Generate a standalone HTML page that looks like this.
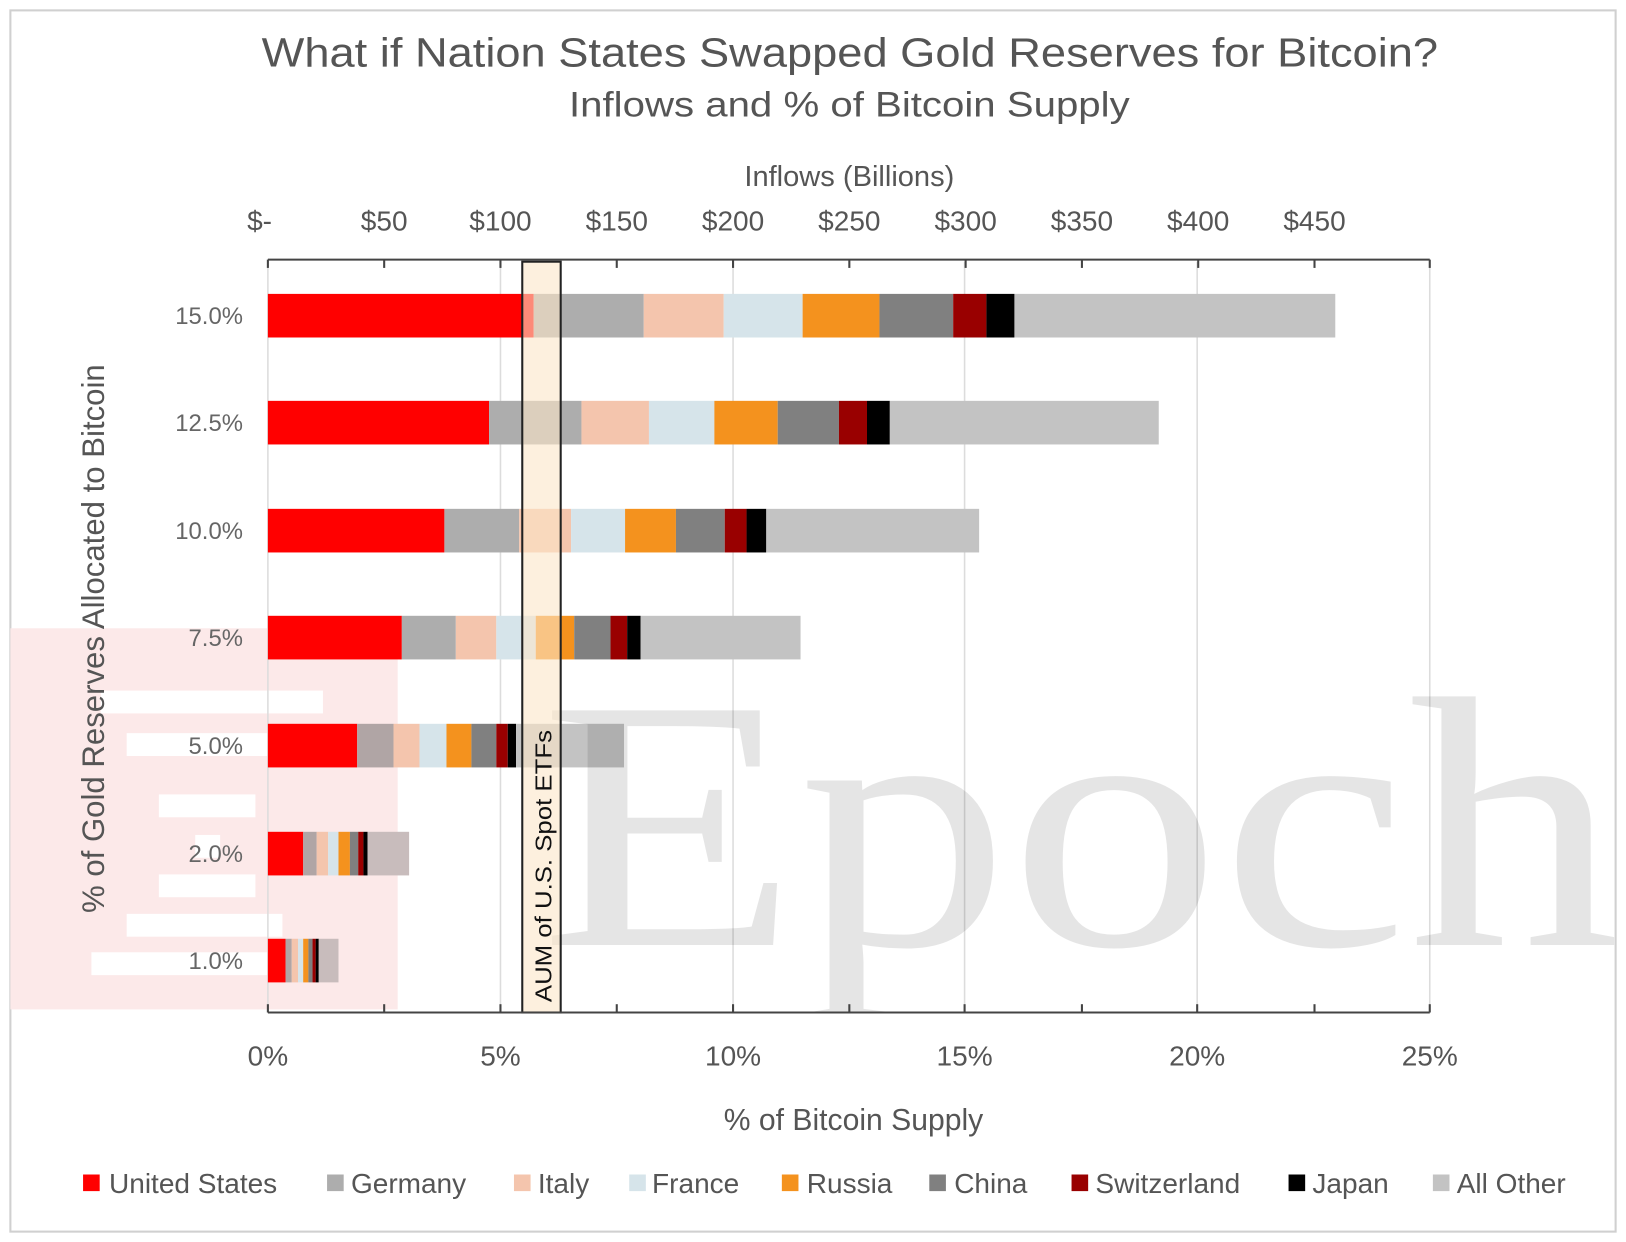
<!DOCTYPE html>
<html><head><meta charset="utf-8"><style>
html,body{margin:0;padding:0;background:#fff;}
svg{display:block;}
</style></head><body>
<svg width="1626" height="1242" viewBox="0 0 1566 1196" preserveAspectRatio="none" xmlns="http://www.w3.org/2000/svg" style="font-family:'Liberation Sans',sans-serif">
<defs><clipPath id="pc"><rect x="0" y="0" width="1566" height="975"/></clipPath></defs>
<rect x="0" y="0" width="1566" height="1196" fill="#fff"/>
<rect x="10" y="10" width="1546" height="1176" fill="none" stroke="#d0d0d0" stroke-width="2"/>
<!-- pink watermark (behind) -->
<rect x="10" y="605" width="373" height="367" fill="#fce9e9"/>
<g fill="#fff">
<rect x="97" y="665" width="214" height="22"/>
<rect x="122" y="706" width="150" height="22"/>
<rect x="153" y="765" width="93" height="22"/>
<rect x="188" y="804" width="24" height="22"/>
<rect x="153" y="842" width="93" height="22"/>
<rect x="122" y="880" width="150" height="22"/>
<rect x="88" y="917" width="224" height="22"/>
</g>
<!-- gridlines -->
<g stroke="#dcdcdc" stroke-width="1.5">
<line x1="258" y1="252" x2="258" y2="975"/>
<line x1="482" y1="252" x2="482" y2="975"/>
<line x1="706" y1="252" x2="706" y2="975"/>
<line x1="929" y1="252" x2="929" y2="975"/>
<line x1="1153" y1="252" x2="1153" y2="975"/>
<line x1="1377" y1="252" x2="1377" y2="975"/>
</g>
<!-- bars -->
<g>
<rect x="258" y="283" width="256" height="42" fill="#ff0000"/>
<rect x="514" y="283" width="106" height="42" fill="#adadad"/>
<rect x="620" y="283" width="77" height="42" fill="#f4c5ad"/>
<rect x="697" y="283" width="76" height="42" fill="#d6e4ea"/>
<rect x="773" y="283" width="74" height="42" fill="#f4921e"/>
<rect x="847" y="283" width="71" height="42" fill="#808080"/>
<rect x="918" y="283" width="32" height="42" fill="#990000"/>
<rect x="950" y="283" width="27" height="42" fill="#000"/>
<rect x="977" y="283" width="309" height="42" fill="#c3c3c3"/>
<rect x="258" y="386" width="213" height="42" fill="#ff0000"/>
<rect x="471" y="386" width="89" height="42" fill="#adadad"/>
<rect x="560" y="386" width="65" height="42" fill="#f4c5ad"/>
<rect x="625" y="386" width="63" height="42" fill="#d6e4ea"/>
<rect x="688" y="386" width="61" height="42" fill="#f4921e"/>
<rect x="749" y="386" width="59" height="42" fill="#808080"/>
<rect x="808" y="386" width="27" height="42" fill="#990000"/>
<rect x="835" y="386" width="22" height="42" fill="#000"/>
<rect x="857" y="386" width="259" height="42" fill="#c3c3c3"/>
<rect x="258" y="490" width="170" height="42" fill="#ff0000"/>
<rect x="428" y="490" width="72" height="42" fill="#adadad"/>
<rect x="500" y="490" width="50" height="42" fill="#f4c5ad"/>
<rect x="550" y="490" width="52" height="42" fill="#d6e4ea"/>
<rect x="602" y="490" width="49" height="42" fill="#f4921e"/>
<rect x="651" y="490" width="47" height="42" fill="#808080"/>
<rect x="698" y="490" width="21" height="42" fill="#990000"/>
<rect x="719" y="490" width="19" height="42" fill="#000"/>
<rect x="738" y="490" width="205" height="42" fill="#c3c3c3"/>
<rect x="258" y="593" width="129" height="42" fill="#ff0000"/>
<rect x="387" y="593" width="52" height="42" fill="#adadad"/>
<rect x="439" y="593" width="39" height="42" fill="#f4c5ad"/>
<rect x="478" y="593" width="38" height="42" fill="#d6e4ea"/>
<rect x="516" y="593" width="37" height="42" fill="#f4921e"/>
<rect x="553" y="593" width="35" height="42" fill="#808080"/>
<rect x="588" y="593" width="16" height="42" fill="#990000"/>
<rect x="604" y="593" width="13" height="42" fill="#000"/>
<rect x="617" y="593" width="154" height="42" fill="#c3c3c3"/>
<rect x="258" y="697" width="86" height="42" fill="#ff0000"/>
<rect x="344" y="697" width="35" height="42" fill="#b0a5a5"/>
<rect x="379" y="697" width="25" height="42" fill="#f4c5ad"/>
<rect x="404" y="697" width="26" height="42" fill="#d6e4ea"/>
<rect x="430" y="697" width="24" height="42" fill="#f4921e"/>
<rect x="454" y="697" width="24" height="42" fill="#808080"/>
<rect x="478" y="697" width="11" height="42" fill="#990000"/>
<rect x="489" y="697" width="8" height="42" fill="#000"/>
<rect x="497" y="697" width="104" height="42" fill="#c3c3c3"/>
<rect x="258" y="801" width="34" height="42" fill="#ff0000"/>
<rect x="292" y="801" width="13" height="42" fill="#b0a5a5"/>
<rect x="305" y="801" width="11" height="42" fill="#f4c5ad"/>
<rect x="316" y="801" width="10" height="42" fill="#d6e4ea"/>
<rect x="326" y="801" width="11" height="42" fill="#f4921e"/>
<rect x="337" y="801" width="8" height="42" fill="#808080"/>
<rect x="345" y="801" width="5" height="42" fill="#990000"/>
<rect x="350" y="801" width="4" height="42" fill="#000"/>
<rect x="354" y="801" width="40" height="42" fill="#c8bcbc"/>
<rect x="258" y="904" width="17" height="42" fill="#ff0000"/>
<rect x="275" y="904" width="6" height="42" fill="#b0a5a5"/>
<rect x="281" y="904" width="6" height="42" fill="#f4c5ad"/>
<rect x="287" y="904" width="5" height="42" fill="#d6e4ea"/>
<rect x="292" y="904" width="5" height="42" fill="#f4921e"/>
<rect x="297" y="904" width="4" height="42" fill="#808080"/>
<rect x="301" y="904" width="3" height="42" fill="#990000"/>
<rect x="304" y="904" width="3" height="42" fill="#000"/>
<rect x="307" y="904" width="19" height="42" fill="#c8bcbc"/>
</g>
<!-- watermark Epoch -->
<g clip-path="url(#pc)">
<text x="520" y="910" style="font-family:'Liberation Serif',serif" font-size="345" fill="#000" fill-opacity="0.1" textLength="1040" lengthAdjust="spacingAndGlyphs">Epoch</text>
</g>
<!-- ETF band -->
<rect x="503" y="252" width="37" height="723" fill="#fbe6c8" fill-opacity="0.6" stroke="#222" stroke-width="2"/>
<text transform="translate(531,965) rotate(-90)" font-size="22" fill="#111" textLength="262" lengthAdjust="spacingAndGlyphs">AUM of U.S. Spot ETFs</text>
<!-- axes -->
<line x1="258" y1="250" x2="1377" y2="250" stroke="#444" stroke-width="2"/>
<line x1="258" y1="975" x2="1377" y2="975" stroke="#444" stroke-width="2"/>
<g stroke="#444" stroke-width="2">
<line x1="258" y1="250" x2="258" y2="258"/><line x1="370" y1="250" x2="370" y2="258"/><line x1="482" y1="250" x2="482" y2="258"/><line x1="594" y1="250" x2="594" y2="258"/><line x1="706" y1="250" x2="706" y2="258"/><line x1="818" y1="250" x2="818" y2="258"/><line x1="930" y1="250" x2="930" y2="258"/><line x1="1042" y1="250" x2="1042" y2="258"/><line x1="1154" y1="250" x2="1154" y2="258"/><line x1="1266" y1="250" x2="1266" y2="258"/><line x1="1377" y1="250" x2="1377" y2="258"/>
<line x1="370" y1="967" x2="370" y2="975"/><line x1="594" y1="967" x2="594" y2="975"/><line x1="818" y1="967" x2="818" y2="975"/><line x1="1042" y1="967" x2="1042" y2="975"/><line x1="1266" y1="967" x2="1266" y2="975"/>
<line x1="258" y1="967" x2="258" y2="975"/><line x1="482" y1="967" x2="482" y2="975"/><line x1="706" y1="967" x2="706" y2="975"/><line x1="929" y1="967" x2="929" y2="975"/><line x1="1153" y1="967" x2="1153" y2="975"/><line x1="1377" y1="967" x2="1377" y2="975"/>
</g>
<!-- titles -->
<text x="252" y="64" font-size="39" fill="#555" textLength="1133" lengthAdjust="spacingAndGlyphs">What if Nation States Swapped Gold Reserves for Bitcoin?</text>
<text x="548" y="112" font-size="34" fill="#555" textLength="540" lengthAdjust="spacingAndGlyphs">Inflows and % of Bitcoin Supply</text>
<text x="818" y="179" text-anchor="middle" font-size="28" fill="#555">Inflows (Billions)</text>
<g font-size="27" fill="#555" text-anchor="middle">
<text x="250" y="222">$-</text><text x="370" y="222">$50</text><text x="482" y="222">$100</text><text x="594" y="222">$150</text><text x="706" y="222">$200</text><text x="818" y="222">$250</text><text x="930" y="222">$300</text><text x="1042" y="222">$350</text><text x="1154" y="222">$400</text><text x="1266" y="222">$450</text>
<text x="258" y="1026">0%</text><text x="482" y="1026">5%</text><text x="706" y="1026">10%</text><text x="929" y="1026">15%</text><text x="1153" y="1026">20%</text><text x="1377" y="1026">25%</text>
</g>
<text x="822" y="1088" text-anchor="middle" font-size="29" fill="#555">% of Bitcoin Supply</text>
<g font-size="23" fill="#666" text-anchor="end">
<text x="234" y="312">15.0%</text><text x="234" y="415">12.5%</text><text x="234" y="519">10.0%</text><text x="234" y="622">7.5%</text><text x="234" y="726">5.0%</text><text x="234" y="830">2.0%</text><text x="234" y="933">1.0%</text>
</g>
<text transform="translate(100,615) rotate(-90)" text-anchor="middle" font-size="30" fill="#555">% of Gold Reserves Allocated to Bitcoin</text>
<!-- legend -->
<g font-size="27" fill="#555">
<rect x="80" y="1131" width="16" height="16" fill="#ff0000"/><text x="105" y="1149">United States</text>
<rect x="315" y="1131" width="16" height="16" fill="#adadad"/><text x="338" y="1149">Germany</text>
<rect x="495" y="1131" width="16" height="16" fill="#f4c5ad"/><text x="518" y="1149">Italy</text>
<rect x="606" y="1131" width="16" height="16" fill="#d6e4ea"/><text x="628" y="1149">France</text>
<rect x="753" y="1131" width="16" height="16" fill="#f4921e"/><text x="777" y="1149">Russia</text>
<rect x="895" y="1131" width="16" height="16" fill="#808080"/><text x="919" y="1149">China</text>
<rect x="1032" y="1131" width="16" height="16" fill="#990000"/><text x="1055" y="1149">Switzerland</text>
<rect x="1241" y="1131" width="16" height="16" fill="#000"/><text x="1264" y="1149">Japan</text>
<rect x="1380" y="1131" width="16" height="16" fill="#c3c3c3"/><text x="1403" y="1149">All Other</text>
</g>
</svg>
</body></html>
